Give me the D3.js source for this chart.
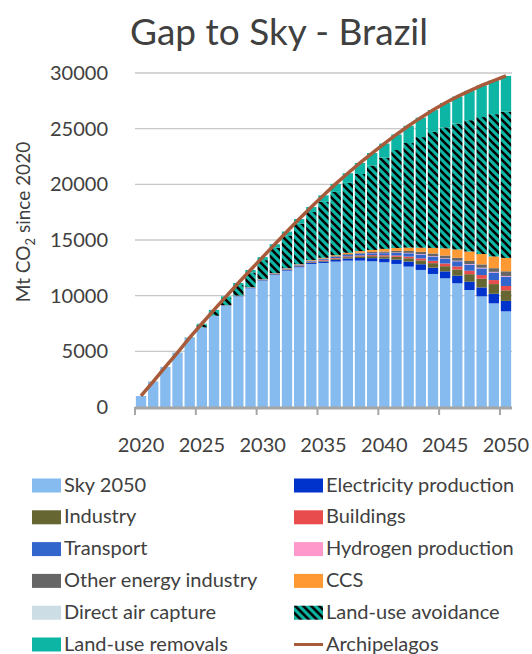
<!DOCTYPE html>
<html>
<head>
<meta charset="utf-8">
<script src="https://cdn.jsdelivr.net/npm/d3@7"></script>
<style>
  body { margin: 0; background: #fff; }
  text { font-family: Lato, "Open Sans", sans-serif; fill: #404040; }
</style>
</head>
<body>
<script>
// years on the category axis
var years = [2020,2021,2022,2023,2024,2025,2026,2027,2028,2029,2030,2031,2032,2033,2034,2035,
             2036,2037,2038,2039,2040,2041,2042,2043,2044,2045,2046,2047,2048,2049,2050];
var xTickYears = [2020,2025,2030,2035,2040,2045,2050];
var yTicks = [0,5000,10000,15000,20000,25000,30000];

// Mt CO2 since 2020
var sky2050     = [990,2280,3600,4890,6190,7150,8200,9100,9940,10660,11350,11860,12250,12550,12850,12940,
                   13060,13150,13150,13090,13000,12850,12610,12310,11950,11560,11110,10510,9940,9310,8590];
var electricity = [0,0,0,0,0,0,0,10,20,30,40,50,60,80,100,130,160,190,230,280,330,390,450,510,560,620,680,740,800,860,940];
var industry    = [0,0,0,0,0,0,0,10,15,20,25,30,40,50,60,80,100,120,150,180,200,250,300,350,410,470,560,680,780,870,950];
var buildings   = [0,0,0,0,0,0,0,5,10,15,20,25,30,35,40,50,60,70,80,90,100,120,150,180,210,240,280,310,330,360,390];
var transport   = [0,0,0,0,0,0,0,10,15,20,25,30,40,50,60,80,100,120,150,170,190,240,300,350,390,420,460,540,600,680,840];
var hydrogen    = [0,0,0,0,0,0,0,0,0,0,0,0,5,5,10,10,10,15,15,20,25,30,35,40,40,45,50,55,60,60,60];
var otherEnergy = [0,0,0,0,0,0,0,5,10,10,15,20,25,30,40,50,60,75,90,100,120,140,170,200,230,250,260,280,300,330,420];
var ccs         = [0,0,0,0,0,0,0,0,5,10,10,15,20,30,40,60,80,110,140,180,235,260,300,370,500,640,750,850,930,1050,1200];
var dac         = [0,0,0,0,0,0,0,0,0,0,0,0,0,0,0,0,0,0,0,0,0,0,0,0,0,0,0,0,0,0,0];
var luAvoidance = [0,10,0,0,30,250,410,650,935,1315,1705,2280,2940,3650,4310,5030,5690,6290,6925,7580,8200,
                   8800,9395,9930,10420,10875,11310,11795,12300,12780,13140];
var luRemovals  = [0,0,0,0,20,80,110,150,190,230,270,310,350,400,450,580,720,860,990,1120,1260,1400,1550,
                   1750,1960,2180,2420,2640,2840,3020,3210];
var archipelagos = [990,2290,3600,4890,6240,7480,8720,9940,11140,12310,13460,14620,15760,16880,17960,19010,
                    20040,21000,21920,22810,23660,24480,25260,25990,26670,27300,27880,28400,28880,29320,29740];

var series = [
  {key: "sky", name: "Sky 2050", values: sky2050, color: "#85BBEE"},
  {key: "elec", name: "Electricity production", values: electricity, color: "#0033CC"},
  {key: "ind", name: "Industry", values: industry, color: "#666633"},
  {key: "bld", name: "Buildings", values: buildings, color: "#E84C4C"},
  {key: "trn", name: "Transport", values: transport, color: "#3366CC"},
  {key: "hyd", name: "Hydrogen production", values: hydrogen, color: "#FF99CC"},
  {key: "oth", name: "Other energy industry", values: otherEnergy, color: "#666666"},
  {key: "ccs", name: "CCS", values: ccs, color: "#FF9933"},
  {key: "dac", name: "Direct air capture", values: dac, color: "#CCDDE5"},
  {key: "lua", name: "Land-use avoidance", values: luAvoidance, color: "url(#hatch)"},
  {key: "lur", name: "Land-use removals", values: luRemovals, color: "#0DB5A5"}
];

var width = 532, height = 654;
var margin = {top: 73, left: 135, right: 20, bottom: 247};
var plotW = 512 - margin.left, plotH = 407 - margin.top;

var svg = d3.select("body").append("svg")
    .attr("width", width)
    .attr("height", height);

// hatch pattern for land-use avoidance
var pat = svg.append("defs").append("pattern")
    .attr("id", "hatch")
    .attr("patternUnits", "userSpaceOnUse")
    .attr("width", 8).attr("height", 8);
pat.append("rect").attr("width", 8).attr("height", 8).attr("fill", "#0DB5A5");
pat.append("path")
    .attr("d", "M-2,-2L10,10M-2,6L2,10M6,-2L10,2")
    .attr("stroke", "#000").attr("stroke-width", 2.6);

svg.append("text")
    .attr("x", 279).attr("y", 45)
    .attr("text-anchor", "middle")
    .style("font-size", "37px")
    .text("Gap to Sky - Brazil");

var g = svg.append("g")
    .attr("transform", "translate(" + margin.left + "," + margin.top + ")");

var x = d3.scaleBand()
    .domain(years)
    .range([0, plotW])
    .paddingInner(0.15)
    .paddingOuter(0.07);

var y = d3.scaleLinear()
    .domain([0, 30000])
    .range([plotH, 0]);

// gridlines
g.selectAll(".grid")
    .data(yTicks.slice(1))
    .enter().append("line")
    .attr("x1", 0).attr("x2", plotW)
    .attr("y1", function(d) { return y(d); })
    .attr("y2", function(d) { return y(d); })
    .attr("stroke", "#C8C8C8").attr("stroke-width", 1.3);

g.selectAll(".ylab")
    .data(yTicks)
    .enter().append("text")
    .attr("x", -27)
    .attr("y", function(d) { return y(d); })
    .attr("dy", "0.35em")
    .attr("text-anchor", "end")
    .style("font-size", "20px")
    .text(function(d) { return d; });

var rows = years.map(function(yr, i) {
  var r = {year: yr};
  series.forEach(function(s) { r[s.key] = s.values[i]; });
  return r;
});

var stack = d3.stack().keys(series.map(function(s) { return s.key; }));
var layers = stack(rows);

g.selectAll(".layer")
    .data(layers)
    .enter().append("g")
    .attr("fill", function(d, i) { return series[i].color; })
    .selectAll("rect")
    .data(function(d) { return d; })
    .enter().append("rect")
    .attr("x", function(d) { return x(d.data.year); })
    .attr("width", x.bandwidth())
    .attr("y", function(d) { return y(d[1]); })
    .attr("height", function(d) { return Math.max(0, y(d[0]) - y(d[1])); });

// x axis
var step = x.step();
g.append("line")
    .attr("x1", 0).attr("x2", plotW)
    .attr("y1", plotH + 1).attr("y2", plotH + 1)
    .attr("stroke", "#A6A6A6").attr("stroke-width", 3);

g.selectAll(".xtick")
    .data(xTickYears)
    .enter().append("line")
    .attr("x1", function(d) { return x(d) - x.paddingOuter() * step; })
    .attr("x2", function(d) { return x(d) - x.paddingOuter() * step; })
    .attr("y1", plotH).attr("y2", plotH + 8)
    .attr("stroke", "#A6A6A6").attr("stroke-width", 2);

g.selectAll(".xlab")
    .data(xTickYears)
    .enter().append("text")
    .attr("x", function(d) { return x(d) + x.bandwidth() / 2; })
    .attr("y", plotH + 45)
    .attr("text-anchor", "middle")
    .style("font-size", "20px")
    .text(function(d) { return d; });

// Archipelagos line
var line = d3.line()
    .x(function(d, i) { return x(years[i]) + x.bandwidth() / 2; })
    .y(function(d) { return y(d); });

g.append("path")
    .datum(archipelagos)
    .attr("d", line)
    .attr("fill", "none")
    .attr("stroke", "#A85B3B")
    .attr("stroke-width", 3.5);

// y axis title
var yt = svg.append("text")
    .attr("transform", "translate(30,222) rotate(-90)")
    .attr("text-anchor", "middle")
    .style("font-size", "19px");
yt.append("tspan").text("Mt CO");
yt.append("tspan").attr("dy", 5).style("font-size", "13px").text("2");
yt.append("tspan").attr("dy", -5).text(" since 2020");

// legend
var legendItems = series.map(function(s) { return {name: s.name, color: s.color, type: "rect"}; });
legendItems.push({name: "Archipelagos", color: "#A85B3B", type: "line"});

var leg = svg.selectAll(".leg")
    .data(legendItems)
    .enter().append("g")
    .attr("transform", function(d, i) {
      var col = i % 2, row = Math.floor(i / 2);
      return "translate(" + (col ? 294 : 32) + "," + (485.5 + row * 31.8) + ")";
    });

leg.filter(function(d) { return d.type === "rect"; })
    .append("rect")
    .attr("x", 0).attr("y", -7)
    .attr("width", 29).attr("height", 14)
    .attr("fill", function(d) { return d.color; });

leg.filter(function(d) { return d.type === "line"; })
    .append("line")
    .attr("x1", 0).attr("x2", 29)
    .attr("y1", 0).attr("y2", 0)
    .attr("stroke", function(d) { return d.color; })
    .attr("stroke-width", 3);

leg.append("text")
    .attr("x", 32)
    .attr("dy", "0.3em")
    .style("font-size", "20px")
    .text(function(d) { return d.name; });
</script>
</body>
</html>
